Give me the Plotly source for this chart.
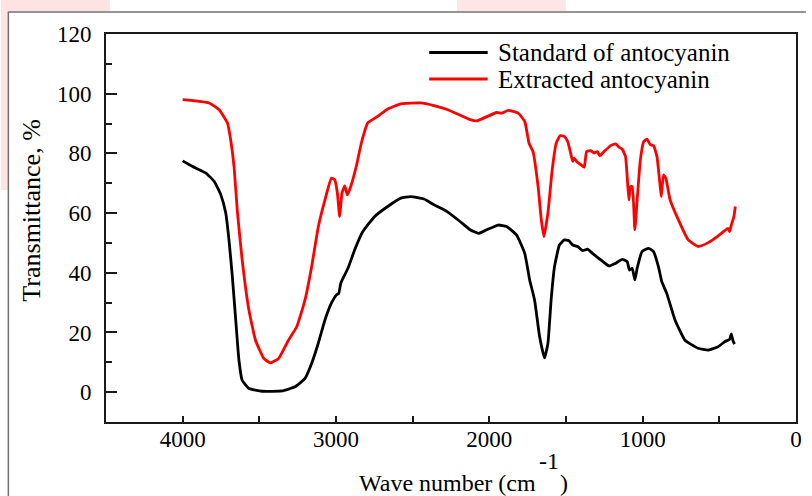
import plotly.graph_objects as go

# Standard of antocyanin (black)
std_wn = [4000, 3935, 3848, 3794, 3751, 3719, 3698, 3676, 3654, 3633, 3612, 3568, 3482, 3353,
          3267, 3202, 3159, 3116, 3072, 3030, 2997, 2982, 2969, 2954, 2922, 2878, 2825, 2749,
          2663, 2577, 2513, 2426, 2361, 2275, 2189, 2125, 2071, 2017, 1941, 1888, 1823, 1769,
          1737, 1705, 1672, 1640, 1618, 1597, 1575, 1543, 1511, 1483, 1456, 1424, 1392, 1360,
          1327, 1273, 1220, 1176, 1133, 1101, 1086, 1068, 1051, 1036, 1004, 961, 929, 897, 875,
          843, 789, 724, 638, 573, 509, 465, 433, 422, 412, 401]
std_t = [77.5, 75.6, 73.4, 70.6, 66.1, 60, 51, 38.7, 24.2, 10.7, 4, 1.2, 0.3, 0.4,
         1.8, 4.6, 9.6, 16.3, 24.2, 29.8, 32.6, 33.1, 36.5, 38.2, 41.5, 47.7, 53.8, 58.8,
         62.2, 65, 65.5, 64.7, 62.8, 60.5, 57.1, 54.4, 53.2, 54.4, 56, 55.5, 52.7, 46.5,
         37.6, 30.9, 18.6, 11.5, 16.3, 30.9, 42, 49.3, 51, 50.8, 49.3, 48.8, 47.4, 47.9,
         46.5, 44.3, 42.3, 43.2, 44.5, 43.7, 40.9, 41.5, 37.6, 41.5, 47.1, 48.2, 47.1, 42, 37,
         33.1, 24.2, 17.4, 14.7, 14.1, 15.2, 16.9, 17.7, 19.5, 17.4, 16.1]

# Extracted antocyanin (red)
ext_wn = [4000, 3828, 3762, 3708, 3687, 3665, 3644, 3612, 3568, 3525, 3471, 3428, 3374, 3310,
          3256, 3202, 3159, 3115, 3072, 3030, 3008, 2991, 2976, 2961, 2943, 2926, 2904, 2868,
          2835, 2793, 2728, 2663, 2577, 2448, 2361, 2275, 2125, 2081, 1952, 1920, 1877, 1812,
          1769, 1741, 1715, 1682, 1661, 1644, 1618, 1590, 1564, 1539, 1511, 1489, 1467, 1456,
          1446, 1431, 1403, 1381, 1366, 1338, 1317, 1295, 1280, 1252, 1209, 1176, 1155, 1133,
          1112, 1101, 1090, 1079, 1068, 1051, 1036, 1015, 993, 972, 950, 929, 907, 890, 879,
          864, 849, 821, 767, 703, 638, 573, 509, 465, 444, 433, 422, 405, 396]
ext_t = [98, 96.9, 94.6, 90.2, 84.6, 75.6, 61, 44.3, 27.5, 17.4, 11.3, 9.8, 11.3, 17.4,
         21.9, 30.9, 42, 55.5, 64.4, 71.7, 71.1, 66.7, 58.8, 66.7, 69.1, 66.1, 68.9, 75.6,
         83.4, 90.2, 92.4, 94.9, 96.6, 96.9, 96, 94.7, 91.3, 90.9, 93.7, 93.5, 94.4, 93.5,
         90.7, 83.4, 80.6, 68.9, 57.7, 52.1, 60, 74.5, 83.4, 85.9, 85.7, 84, 79.5, 77.3,
         78.4, 77.3, 76.2, 75.4, 80.6, 80.9, 80.1, 80.6, 79.2, 80.6, 82.6, 83.2, 82.1, 81.4,
         79, 72.3, 64.4, 68.9, 68.9, 54.4, 64.4, 77.9, 84, 84.8, 82.9, 82.6, 79, 71.1, 65.5,
         72.8, 71.7, 64.4, 57.7, 51, 48.8, 50.1, 52.3, 54.1, 54.9, 53.8, 56, 58.8, 62.2]

series_names = ["Standard of antocyanin", "Extracted antocyanin"]
series_colors = ["#000000", "#ff0000"]

x_tick_vals = [4000, 3000, 2000, 1000, 0]
y_tick_vals = [0, 20, 40, 60, 80, 100, 120]

FONT = "Liberation Serif"

fig = go.Figure()
fig.add_trace(go.Scatter(x=std_wn, y=std_t, mode="lines", name=series_names[0],
                         line=dict(color=series_colors[0], width=2.8, shape="spline", smoothing=0.4),
                         showlegend=False))
fig.add_trace(go.Scatter(x=ext_wn, y=ext_t, mode="lines", name=series_names[1],
                         line=dict(color=series_colors[1], width=2.8, shape="spline", smoothing=0.4),
                         showlegend=False))

L, R, T, B = 106, 10, 34, 74
W, H = 812, 496
pw, ph = W - L - R, H - T - B


def px(x):
    return (x - L) / pw


def py(y):
    return (H - B - y) / ph


shapes = []
# faint watermark patches & outer page box
shapes.append(dict(type="rect", xref="paper", yref="paper", x0=px(0), x1=px(7), y0=py(190), y1=py(0),
                   fillcolor="#fde3e3", line=dict(width=0), layer="below"))
shapes.append(dict(type="rect", xref="paper", yref="paper", x0=px(0), x1=px(110), y0=py(11), y1=py(0),
                   fillcolor="#fde3e3", line=dict(width=0), layer="below"))
shapes.append(dict(type="rect", xref="paper", yref="paper", x0=px(460), x1=px(570), y0=py(11), y1=py(0),
                   fillcolor="#fde6e6", line=dict(width=0), layer="below"))
shapes.append(dict(type="line", xref="paper", yref="paper", x0=px(7), x1=px(812), y0=py(12), y1=py(12),
                   line=dict(color="#707070", width=1.5)))
shapes.append(dict(type="line", xref="paper", yref="paper", x0=px(7.5), x1=px(7.5), y0=py(12), y1=py(496),
                   line=dict(color="#707070", width=1.5)))
# manual legend
for i, yy in enumerate([52.5, 79]):
    shapes.append(dict(type="line", xref="paper", yref="paper", x0=px(432), x1=px(491), y0=py(yy), y1=py(yy),
                       line=dict(color=series_colors[i], width=2.8)))

annotations = []
for i, yy in enumerate([52.5, 79]):
    annotations.append(dict(text=series_names[i], xref="paper", yref="paper", x=px(499), y=py(yy),
                            xanchor="left", yanchor="middle", showarrow=False,
                            font=dict(family=FONT, size=25, color="black")))
# axis titles
annotations.append(dict(text="Transmittance, %", xref="paper", yref="paper", x=px(30), y=py(211),
                        textangle=-90, xanchor="center", yanchor="middle", showarrow=False,
                        font=dict(family=FONT, size=26, color="black")))
annotations.append(dict(text="Wave number (cm", xref="paper", yref="paper", x=px(542), y=py(483),
                        xanchor="right", yanchor="middle", showarrow=False,
                        font=dict(family=FONT, size=24, color="black")))
annotations.append(dict(text="-1", xref="paper", yref="paper", x=px(553), y=py(461),
                        xanchor="center", yanchor="middle", showarrow=False,
                        font=dict(family=FONT, size=24, color="black")))
annotations.append(dict(text=")", xref="paper", yref="paper", x=px(568), y=py(483),
                        xanchor="center", yanchor="middle", showarrow=False,
                        font=dict(family=FONT, size=24, color="black")))

fig.update_layout(
    width=W, height=H, autosize=False,
    margin=dict(l=L, r=R, t=T, b=B, pad=0),
    paper_bgcolor="white", plot_bgcolor="white",
    shapes=shapes, annotations=annotations,
    showlegend=False,
)
fig.update_xaxes(
    range=[4500, 0], autorange=False,
    tickmode="array", tickvals=x_tick_vals, ticktext=[str(v) for v in x_tick_vals],
    ticks="inside", ticklen=6, tickwidth=1.5, tickcolor="#1a1a1a",
    minor=dict(dtick=500, tick0=0, ticks="inside", ticklen=6, tickwidth=1.5, tickcolor="#1a1a1a", showgrid=False),
    showline=True, linewidth=2, linecolor="#1a1a1a", mirror=True,
    showgrid=False, zeroline=False,
    tickfont=dict(family=FONT, size=23, color="black"),
    ticklabelstandoff=-5,
)
fig.update_yaxes(
    range=[-10, 120], autorange=False,
    tickmode="array", tickvals=y_tick_vals, ticktext=[str(v) for v in y_tick_vals],
    ticks="inside", ticklen=11, tickwidth=1.5, tickcolor="#1a1a1a",
    minor=dict(dtick=10, tick0=0, ticks="inside", ticklen=6, tickwidth=1.5, tickcolor="#1a1a1a", showgrid=False),
    showline=True, linewidth=2, linecolor="#1a1a1a", mirror=True,
    showgrid=False, zeroline=False,
    tickfont=dict(family=FONT, size=23, color="black"),
    ticklabelstandoff=8,
)

fig.write_html("out.html", config={"displayModeBar": False},
               post_script="document.body.style.margin='0';document.body.style.overflow='hidden';")
